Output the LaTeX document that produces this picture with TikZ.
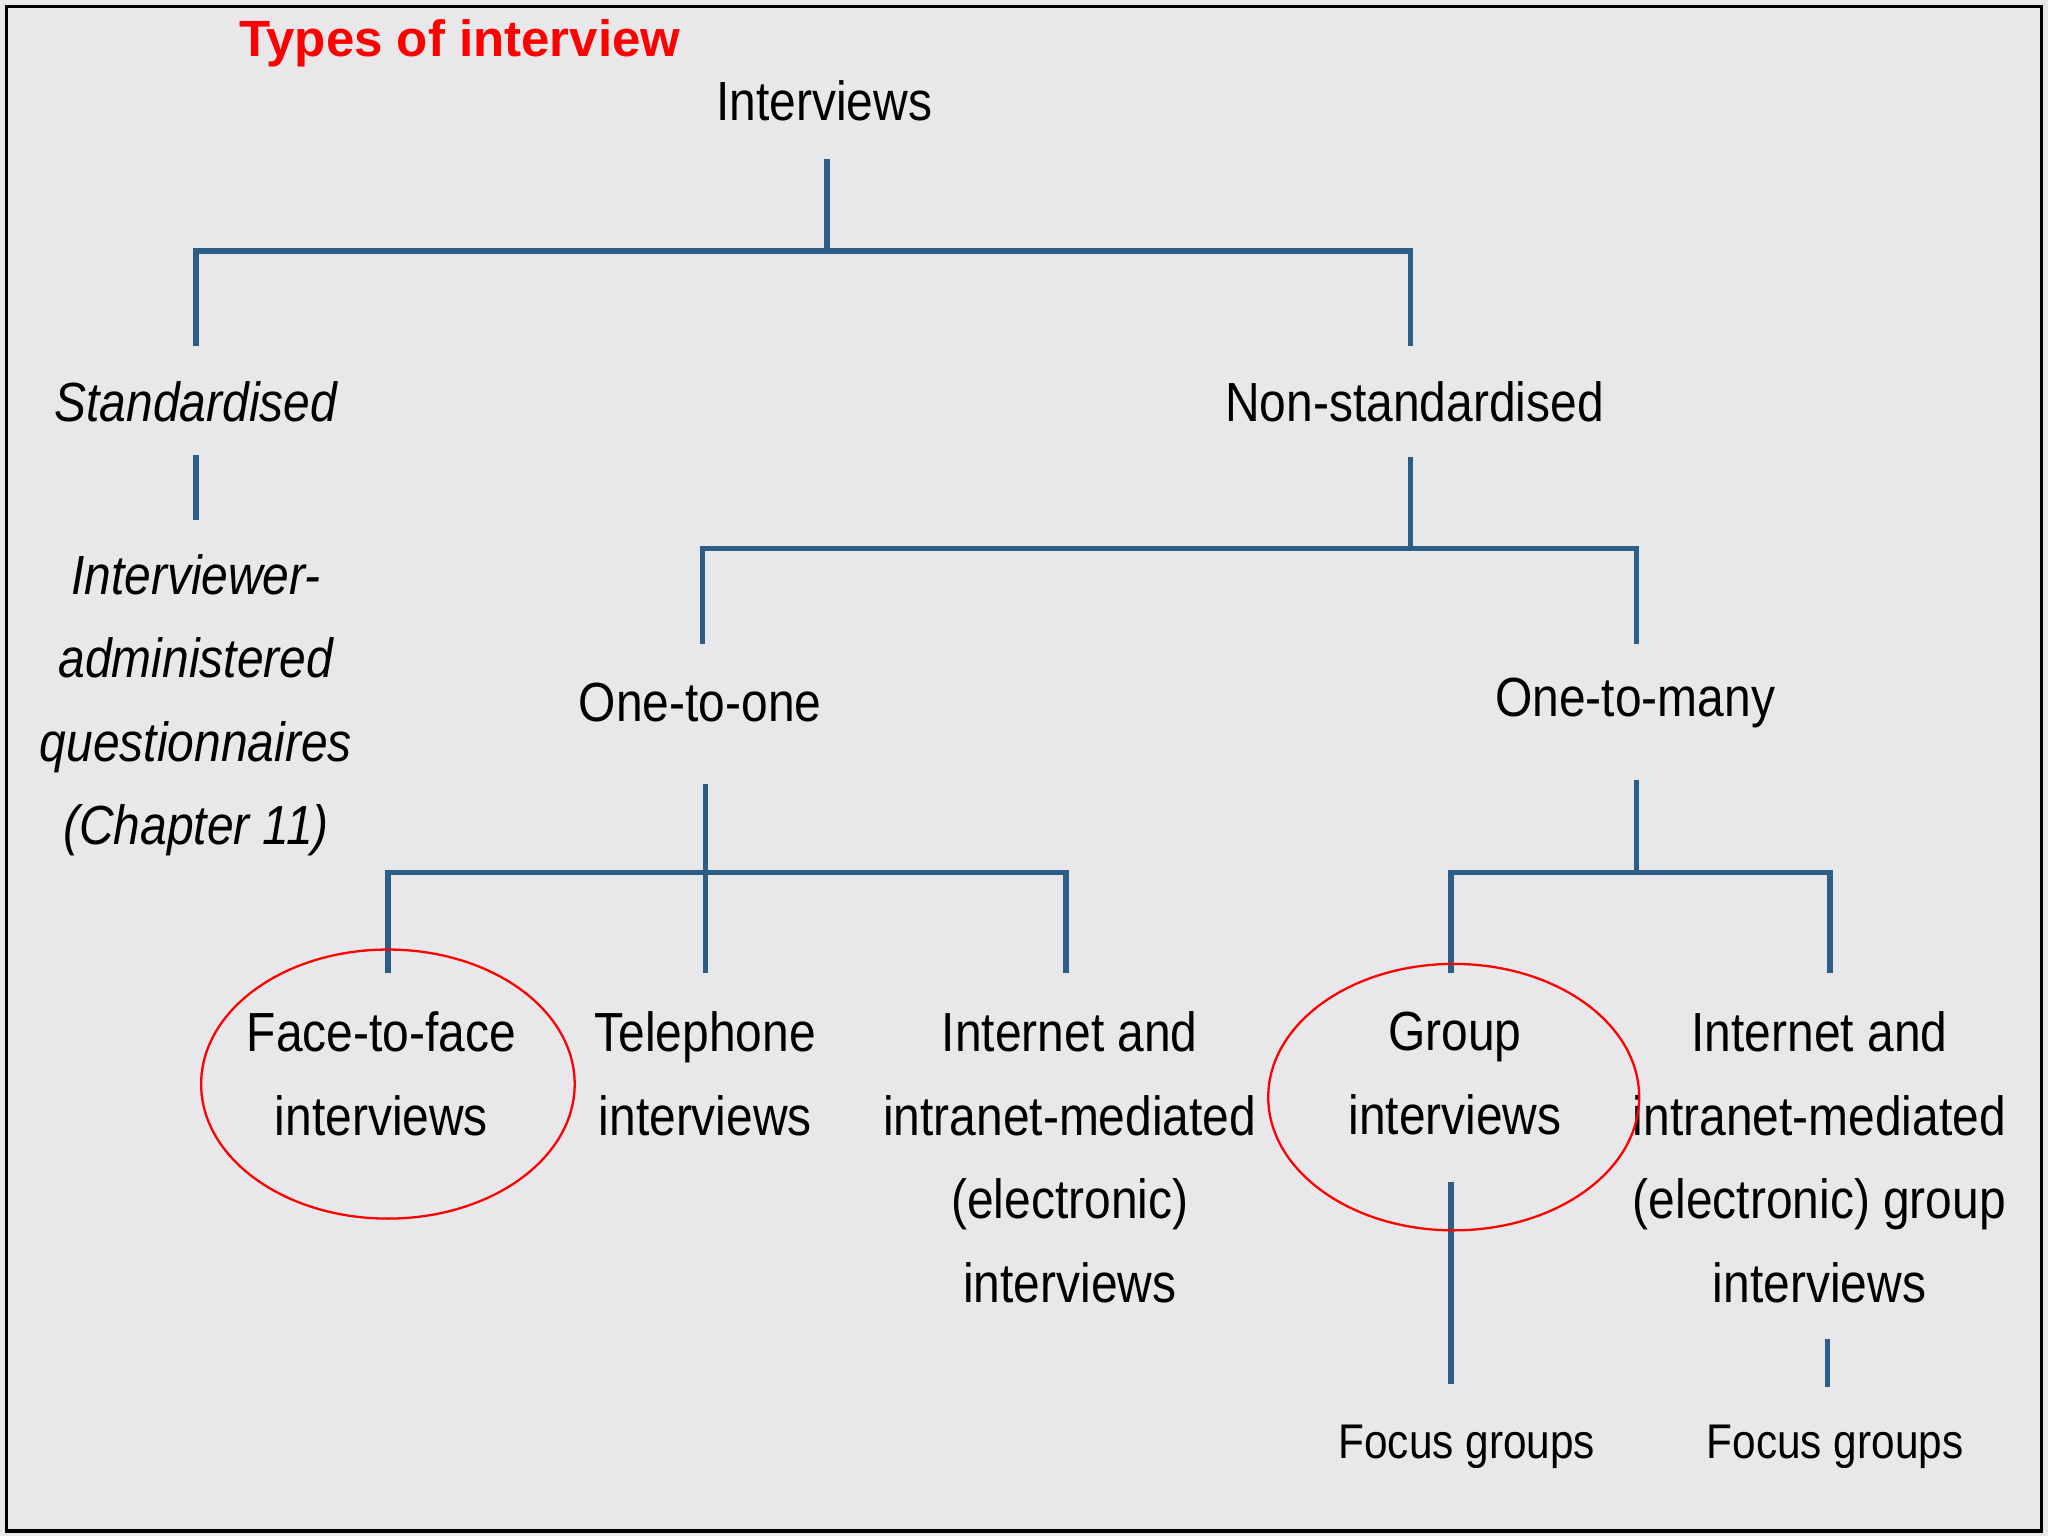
\documentclass[tikz,border=0pt]{standalone}
\usepackage{fontspec}
\setmainfont{Liberation Sans}[FakeStretch=0.87]
\newfontfamily\titlefont{Liberation Sans}
\definecolor{bg}{HTML}{E8E8EA}
\definecolor{ln}{HTML}{2B5D87}
\begin{document}
\begin{tikzpicture}[x=0.01cm,y=-0.01cm,
  br/.style={draw=ln,line width=1.2pt},
  lbl/.style={font=\fontsize{12}{18.2}\selectfont,align=center,inner sep=0pt},
  ital/.style={lbl,font=\fontsize{12}{18.2}\selectfont\itshape},
  small/.style={lbl,font=\fontsize{10.6}{14}\selectfont},
  ring/.style={draw=red,line width=0.5pt}]
\fill[bg] (0,0) rectangle (1568,1176);
\draw[line width=0.8pt] (5,5) rectangle (1563,1172);
\node[font=\titlefont\fontsize{11.1}{13}\selectfont\bfseries,text=red] (title) at (352,33) {Types of interview};
\node[lbl] (int) at (631,77) {Interviews};
\node[ital] (std) at (150,308) {Standardised};
\node[ital] (iaq) at (150,540) {Interviewer-\\administered\\questionnaires\\(Chapter 11)};
\node[lbl] (nst) at (1083,308) {Non-standardised};
\node[lbl] (oto) at (536,538) {One-to-one};
\node[lbl] (otm) at (1252,538) {One-to-many};
\node[lbl] (ftf) at (292,822) {Face-to-face\\interviews};
\node[lbl] (tel) at (540,822) {Telephone\\interviews};
\node[lbl] (iim) at (819,886) {Internet and\\intranet-mediated\\(electronic)\\interviews};
\node[lbl] (grp) at (1114,822) {Group\\interviews};
\node[lbl] (iig) at (1393,886) {Internet and\\intranet-mediated\\(electronic) group\\interviews};
\node[small] (fg1) at (1123,1108) {Focus groups};
\node[small] (fg2) at (1405,1108) {Focus groups};
\draw[br] (633,122) -- (633,192);
\draw[br] (150,265) -- (150,192) -- (1080,192) -- (1080,265);
\draw[br] (150,348) -- (150,398);
\draw[br] (1080,350) -- (1080,420);
\draw[br] (538,493) -- (538,420) -- (1253,420) -- (1253,493);
\draw[br] (540,600) -- (540,745);
\draw[br] (297,745) -- (297,668) -- (816,668) -- (816,745);
\draw[br] (1253,597) -- (1253,668);
\draw[br] (1111,745) -- (1111,668) -- (1401,668) -- (1401,745);
\draw[br] (1111,905) -- (1111,1060);
\draw[br] (1399,1025) -- (1399,1062);
\draw[ring] (297,830) ellipse [x radius=143,y radius=103];
\draw[ring] (1113,840) ellipse [x radius=142,y radius=102];
\end{tikzpicture}
\end{document}
